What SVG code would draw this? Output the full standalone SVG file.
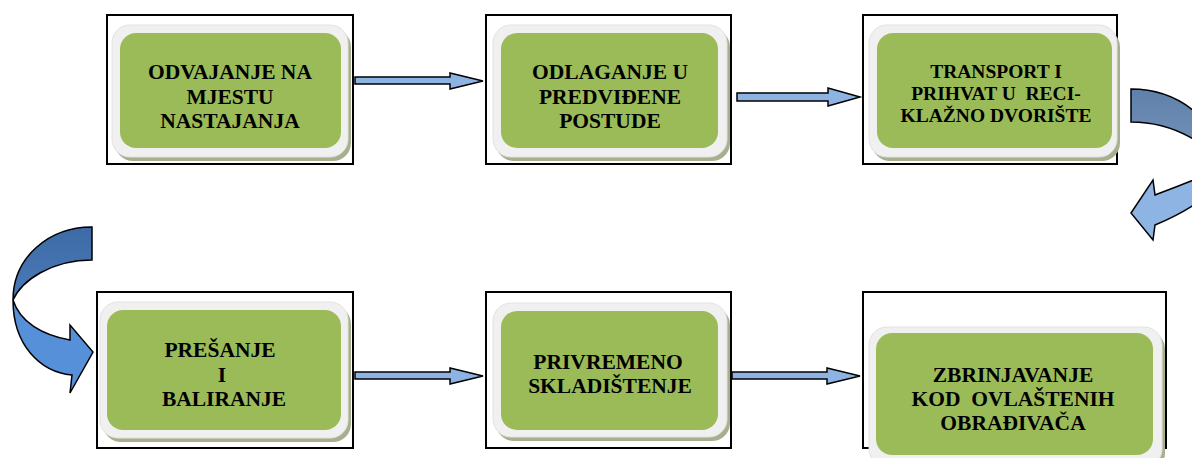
<svg xmlns="http://www.w3.org/2000/svg" width="1192" height="458" viewBox="0 0 1192 458">
<defs>
<style>
.outer{fill:#fff;stroke:#000;stroke-width:2}
.shadow{fill:#A7B08C}
.frame{fill:#F0F0F0;stroke:#E2E2E2;stroke-width:1}
.green{fill:#9BBB59}
.t{font-family:"Liberation Serif","Times New Roman",serif;font-weight:bold;font-size:21.5px;fill:#000;text-anchor:middle}
.t3{font-size:19.5px}
.arr{fill:#8DB3E2;stroke:#000;stroke-width:1.5;stroke-linejoin:miter}
.curve{stroke:#000;stroke-width:1.5;stroke-linejoin:miter}
</style>
<linearGradient id="gR" x1="0" y1="0" x2="0" y2="1">
<stop offset="0" stop-color="#5F80AA"/><stop offset="1" stop-color="#7896BC"/>
</linearGradient>
<linearGradient id="gL" x1="0" y1="0" x2="0" y2="1">
<stop offset="0" stop-color="#3D6BA6"/><stop offset="1" stop-color="#4B7AB8"/>
</linearGradient>
</defs>

<g id="connectors">
<path class="arr" d="M355,77 L450,77 L450,73 L483,81 L450,89 L450,84 L355,84 Z"/>
<path class="arr" d="M737,93 L828,93 L828,88 L860,97 L828,106 L828,101 L737,101 Z"/>
<path class="arr" d="M355,372 L450,372 L450,368 L483,376 L450,384 L450,379 L355,379 Z"/>
<path class="arr" d="M732,372 L827,372 L827,368 L860,376 L827,384 L827,379 L732,379 Z"/>
<g id="curve-right">
<path class="curve" fill="#8DB4E2" d="M1225,165 C1220,190 1195,208 1155,225 L1153,240 L1131,213 L1153,180 L1155,195 C1188,182 1210,175 1225,165 Z"/>
<path class="curve" fill="url(#gR)" d="M1131,89 C1178,89 1218,120 1225,165 C1210,148 1178,122 1131,122 Z"/>
</g>
<g id="curve-left">
<path class="curve" fill="url(#gL)" d="M92,227 C48,227 13,258 13,300 C22,280 52,260 92,260 Z"/>
<path class="curve" fill="#5590D8" d="M13,300 C13,345 40,372 72,375 L70,393 L93,352 L70,325 L70,340 C42,335 20,322 13,300 Z"/>
</g>
</g>

<g id="n1">
<rect class="outer" x="107" y="15" width="246" height="149"/>
<rect class="shadow" x="115" y="29" width="236" height="132" rx="18"/>
<rect class="frame" x="112" y="25" width="236" height="132" rx="18"/>
<rect class="green" x="120" y="33" width="221" height="115" rx="16"/>
<text class="t" x="230" y="79">ODVAJANJE NA</text>
<text class="t" x="230" y="104">MJESTU</text>
<text class="t" x="230" y="128">NASTAJANJA</text>
</g>

<g id="n2">
<rect class="outer" x="486" y="15" width="245" height="149"/>
<rect class="shadow" x="496" y="29" width="234" height="132" rx="18"/>
<rect class="frame" x="493" y="25" width="234" height="132" rx="18"/>
<rect class="green" x="501" y="33" width="217" height="115" rx="16"/>
<text class="t" x="610" y="79">ODLAGANJE U</text>
<text class="t" x="610" y="104">PREDVIĐENE</text>
<text class="t" x="610" y="128">POSTUDE</text>
</g>

<g id="n3">
<rect class="outer" x="863" y="15" width="254" height="149"/>
<rect class="shadow" x="872" y="29" width="248" height="132" rx="18"/>
<rect class="frame" x="869" y="25" width="248" height="132" rx="18"/>
<rect class="green" x="877" y="33" width="235" height="115" rx="16"/>
<text class="t t3" x="996" y="78" xml:space="preserve">TRANSPORT I</text>
<text class="t t3" x="996" y="100" xml:space="preserve">PRIHVAT U  RECI-</text>
<text class="t t3" x="996" y="122">KLAŽNO DVORIŠTE</text>
</g>

<g id="n4">
<rect class="outer" x="97" y="292" width="256" height="156"/>
<rect class="shadow" x="103" y="306" width="248" height="136" rx="18"/>
<rect class="frame" x="100" y="302" width="248" height="136" rx="18"/>
<rect class="green" x="107" y="310" width="234" height="120" rx="16"/>
<text class="t" x="220" y="357">PREŠANJE</text>
<text class="t" x="222" y="382">I</text>
<text class="t" x="224" y="406">BALIRANJE</text>
</g>

<g id="n5">
<rect class="outer" x="486" y="292" width="245" height="156"/>
<rect class="shadow" x="496" y="307" width="234" height="134" rx="18"/>
<rect class="frame" x="493" y="303" width="234" height="134" rx="18"/>
<rect class="green" x="501" y="311" width="217" height="119" rx="16"/>
<text class="t" x="608" y="369">PRIVREMENO</text>
<text class="t" x="610" y="393">SKLADIŠTENJE</text>
</g>

<g id="n6">
<rect class="outer" x="863" y="292" width="303" height="156"/>
<rect class="shadow" x="872" y="331" width="293" height="140" rx="18"/>
<rect class="frame" x="869" y="327" width="293" height="140" rx="18"/>
<rect class="green" x="876" y="333" width="277" height="122" rx="16"/>
<text class="t" x="1013" y="382">ZBRINJAVANJE</text>
<text class="t" x="1013" y="406" xml:space="preserve">KOD  OVLAŠTENIH</text>
<text class="t" x="1013" y="430">OBRAĐIVAČA</text>
</g>
</svg>
